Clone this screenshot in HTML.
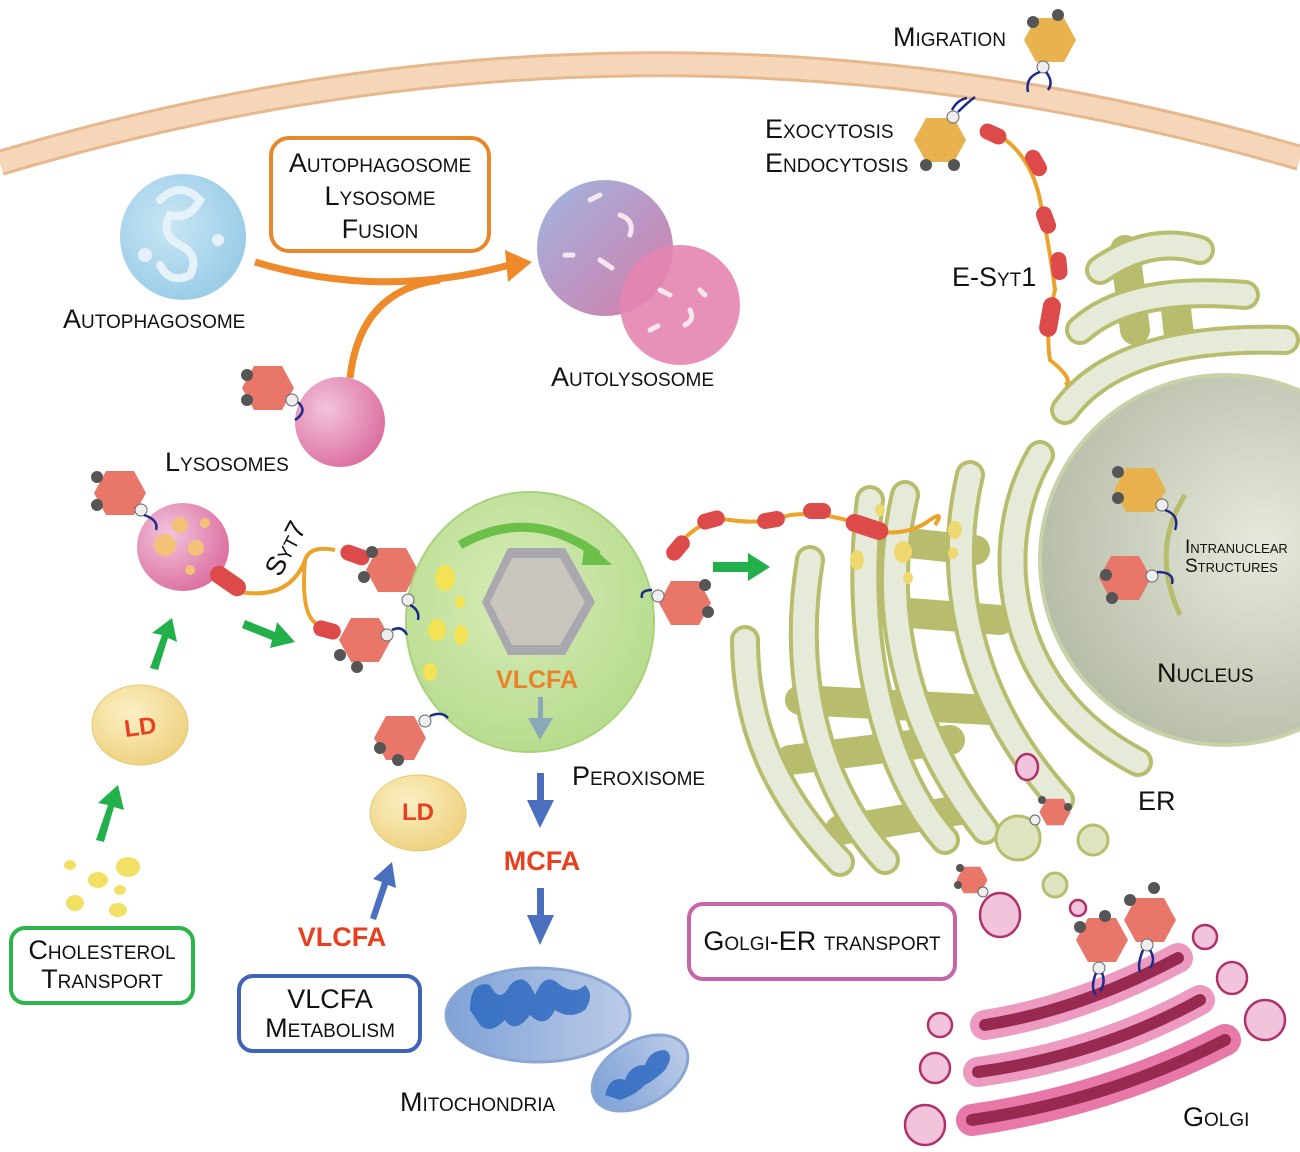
<!DOCTYPE html>
<html><head><meta charset="utf-8"><style>
html,body{margin:0;padding:0;background:#fff;}
svg{display:block;}
text{font-family:"Liberation Sans",sans-serif;}
.sc{font-variant:small-caps;font-size:27px;fill:#111;}
.red{fill:#e8401f;font-weight:bold;}
</style></head><body>
<svg width="1300" height="1152" viewBox="0 0 1300 1152" xmlns="http://www.w3.org/2000/svg">
<defs>
<radialGradient id="gPer" cx="0.45" cy="0.4" r="0.6"><stop offset="0" stop-color="#d8ecb8"/><stop offset="1" stop-color="#b7dc8e"/></radialGradient>
<radialGradient id="gNuc" cx="0.6" cy="0.45" r="0.6"><stop offset="0" stop-color="#e6e9dc"/><stop offset="1" stop-color="#b7bea8"/></radialGradient>
<radialGradient id="gAuto" cx="0.4" cy="0.4" r="0.6"><stop offset="0" stop-color="#c9e6f4"/><stop offset="1" stop-color="#9ccde8"/></radialGradient>
<linearGradient id="gAL" x1="0" y1="0" x2="1" y2="1"><stop offset="0" stop-color="#9fb6e2"/><stop offset="1" stop-color="#d67aa8"/></linearGradient>
<radialGradient id="gPink" cx="0.35" cy="0.35" r="0.7"><stop offset="0" stop-color="#f2c4dc"/><stop offset="1" stop-color="#dc6fa0"/></radialGradient>
<radialGradient id="gLD" cx="0.4" cy="0.35" r="0.7"><stop offset="0" stop-color="#fbf0c4"/><stop offset="1" stop-color="#eed07e"/></radialGradient>
<linearGradient id="gMito" x1="0" y1="0" x2="1" y2="0"><stop offset="0" stop-color="#7fa2d6"/><stop offset="1" stop-color="#bccbe8"/></linearGradient>
<g id="hexR"><polygon points="-14,-22 14,-22 26,0 14,22 -14,22 -26,0" fill="#e8776a"/></g>
<g id="hexY"><polygon points="-14,-22 14,-22 26,0 14,22 -14,22 -26,0" fill="#e8b24e"/></g>
</defs>

<!-- membrane -->
<path d="M0,163 Q650,-32 1300,158" fill="none" stroke="#e7b88e" stroke-width="26"/>
<path d="M0,163 Q650,-32 1300,158" fill="none" stroke="#f6d6b8" stroke-width="20"/>

<!-- autophagosome -->
<circle cx="183" cy="237" r="63" fill="url(#gAuto)"/>
<path d="M160,200 q20,-20 40,0 q-10,20 -30,15 q-10,20 10,30 q20,10 10,30 q-20,10 -30,-10" fill="none" stroke="#e6f2fa" stroke-width="8" stroke-linecap="round"/>
<circle cx="145" cy="255" r="7" fill="#e6f2fa"/><circle cx="218" cy="240" r="6" fill="#e6f2fa"/>
<text class="sc" x="63" y="328">Autophagosome</text>

<!-- fusion box -->
<rect x="271" y="138" width="218" height="113" rx="18" fill="#fff" stroke="#e8862a" stroke-width="4"/>
<text class="sc" x="380" y="172" text-anchor="middle">Autophagosome</text>
<text class="sc" x="380" y="205" text-anchor="middle">Lysosome</text>
<text class="sc" x="380" y="238" text-anchor="middle">Fusion</text>
<!-- orange arrows -->
<path d="M255,262 Q380,300 510,265" fill="none" stroke="#ee8a2a" stroke-width="7"/>
<path d="M350,378 Q360,290 440,280" fill="none" stroke="#ee8a2a" stroke-width="7"/>
<polygon points="505,250 532,262 508,282" fill="#ee8a2a"/>

<!-- autolysosome -->
<circle cx="605" cy="248" r="68" fill="url(#gAL)"/>
<circle cx="680" cy="305" r="60" fill="#e585b0" opacity="0.9"/>
<g stroke="#f6e6f0" stroke-width="5" stroke-linecap="round" fill="none"><path d="M590,200 l10,-5 M620,215 q15,5 10,20 M600,260 l12,8 M565,255 l8,0 M660,290 l10,5 M690,310 q5,10 -5,15 M650,330 l8,-4 M700,290 l5,5"/></g>
<text class="sc" x="551" y="386">Autolysosome</text>

<!-- lysosome -->
<circle cx="340" cy="422" r="45" fill="url(#gPink)"/>
<use href="#hexR" x="268" y="388"/><circle cx="247" cy="375" r="6" fill="#555"/><circle cx="247" cy="400" r="6" fill="#555"/>
<path d="M295,400 q15,10 0,20" fill="none" stroke="#1e2a8a" stroke-width="2.5"/><circle cx="292" cy="400" r="6" fill="#eee" stroke="#666"/>
<text class="sc" x="165" y="471">Lysosomes</text>

<!-- lysosome with Syt7 -->
<ellipse cx="183" cy="547" rx="46" ry="44" fill="url(#gPink)"/>
<circle cx="180" cy="525" r="8" fill="#f3c276"/><circle cx="165" cy="545" r="11" fill="#f3c276"/><circle cx="196" cy="548" r="8" fill="#f3c276"/><circle cx="205" cy="523" r="5" fill="#f3c276"/><circle cx="190" cy="570" r="5" fill="#f3c276"/>
<use href="#hexR" x="120" y="493"/><circle cx="97" cy="477" r="6" fill="#555"/><circle cx="97" cy="505" r="6" fill="#555"/>
<circle cx="141" cy="510" r="6" fill="#eee" stroke="#666"/><path d="M144,515 q15,5 12,15" fill="none" stroke="#1e2a8a" stroke-width="2.5"/>
<path d="M240,592 Q290,600 305,560 Q310,545 335,550 M305,560 Q300,620 320,625" fill="none" stroke="#eba32a" stroke-width="4"/>
<rect x="208" y="572" width="40" height="18" rx="9" fill="#dc4a4a" transform="rotate(35 228 581)"/>
<rect x="340" y="547" width="30" height="16" rx="8" fill="#dc4a4a" transform="rotate(20 355 555)"/>
<rect x="313" y="622" width="28" height="16" rx="8" fill="#dc4a4a" transform="rotate(15 327 630)"/>
<text class="sc" x="0" y="0" transform="translate(280,578) rotate(-62)">Syt7</text>
<use href="#hexR" x="392" y="570"/><circle cx="372" cy="552" r="6" fill="#555"/><circle cx="364" cy="577" r="6" fill="#555"/>
<use href="#hexR" x="365" y="640"/><circle cx="340" cy="655" r="6" fill="#555"/><circle cx="357" cy="667" r="6" fill="#555"/>

<!-- green arrows -->
<g fill="#22b04a">
<polygon points="150,668 162,635 152,633 172,618 177,642 168,638 158,670"/>
<polygon points="245,620 275,632 277,622 295,642 270,648 272,640 242,628"/>
<polygon points="96,840 108,805 98,803 118,785 124,810 114,807 104,842"/>
<polygon points="713,562 748,562 748,553 770,567 748,581 748,572 713,572"/>
</g>

<!-- peroxisome -->
<ellipse cx="530" cy="622" rx="124" ry="130" fill="url(#gPer)" stroke="#a9d27c" stroke-width="2"/>
<path d="M460,545 Q530,505 598,555" fill="none" stroke="#6cc04a" stroke-width="9"/>
<polygon points="585,540 612,565 582,565" fill="#6cc04a"/>
<polygon points="508,548 565,548 595,602 565,655 508,655 482,602" fill="#a8a8ae"/>
<polygon points="512,558 560,558 585,602 560,645 512,645 490,602" fill="#c9c4bc"/>
<g fill="#f2e254"><ellipse cx="445" cy="578" rx="10" ry="13"/><ellipse cx="460" cy="602" rx="5" ry="6"/><ellipse cx="437" cy="630" rx="9" ry="11"/><ellipse cx="461" cy="635" rx="7" ry="10"/><ellipse cx="430" cy="672" rx="7" ry="9"/></g>
<text x="537" y="688" text-anchor="middle" font-size="25" font-weight="bold" fill="#e8832a">VLCFA</text>
<rect x="538" y="697" width="5" height="25" fill="#8aa8b8"/><polygon points="528,718 553,718 540,740" fill="#8aa8b8"/>
<circle cx="408" cy="600" r="6" fill="#eee" stroke="#666"/><path d="M410,605 q10,5 8,15" fill="none" stroke="#1e2a8a" stroke-width="2.5"/>
<circle cx="387" cy="635" r="6" fill="#eee" stroke="#666"/><path d="M392,630 q10,-5 15,5" fill="none" stroke="#1e2a8a" stroke-width="2.5"/>
<text class="sc" x="572" y="785">Peroxisome</text>

<!-- right hex on peroxisome -->
<use href="#hexR" x="685" y="603"/><circle cx="705" cy="585" r="6" fill="#555"/><circle cx="708" cy="612" r="6" fill="#555"/>
<circle cx="658" cy="596" r="6" fill="#eee" stroke="#666"/><path d="M652,590 q-12,0 -10,8" fill="none" stroke="#1e2a8a" stroke-width="2.5"/>

<!-- LD bottom hex -->
<use href="#hexR" x="400" y="738"/><circle cx="380" cy="748" r="6" fill="#555"/><circle cx="398" cy="760" r="6" fill="#555"/>
<circle cx="425" cy="721" r="6" fill="#eee" stroke="#666"/><path d="M430,716 q12,-5 18,2" fill="none" stroke="#1e2a8a" stroke-width="2.5"/>

<!-- LDs -->
<ellipse cx="140" cy="725" rx="48" ry="40" fill="url(#gLD)" stroke="#e6c870"/>
<text x="140" y="735" text-anchor="middle" font-size="24" font-weight="bold" fill="#e8401f" transform="rotate(-8 140 725)">LD</text>
<ellipse cx="418" cy="813" rx="48" ry="38" fill="url(#gLD)" stroke="#e6c870"/>
<text x="418" y="820" text-anchor="middle" font-size="24" font-weight="bold" fill="#e8401f">LD</text>
<g fill="#f2e064"><ellipse cx="70" cy="865" rx="6" ry="5"/><ellipse cx="98" cy="880" rx="10" ry="8"/><ellipse cx="128" cy="867" rx="12" ry="10"/><ellipse cx="120" cy="890" rx="6" ry="5"/><ellipse cx="75" cy="903" rx="9" ry="8"/><ellipse cx="118" cy="910" rx="9" ry="7"/></g>

<!-- blue arrows -->
<g fill="#4a6fbf">
<polygon points="370,918 382,882 373,879 392,862 396,888 388,885 376,920"/>
<rect x="537" y="773" width="7" height="32"/><polygon points="527,800 554,800 540,828"/>
<rect x="537" y="888" width="7" height="30"/><polygon points="527,915 554,915 540,945"/>
</g>
<text x="542" y="870" text-anchor="middle" font-size="27" font-weight="bold" fill="#e8401f">MCFA</text>
<text x="342" y="946" text-anchor="middle" font-size="27" font-weight="bold" fill="#e8401f">VLCFA</text>

<!-- boxes -->
<rect x="11" y="928" width="182" height="75" rx="14" fill="#fff" stroke="#2bb54a" stroke-width="4"/>
<text class="sc" x="102" y="959" text-anchor="middle">Cholesterol</text>
<text class="sc" x="102" y="988" text-anchor="middle">Transport</text>
<rect x="239" y="976" width="181" height="75" rx="14" fill="#fff" stroke="#4063b8" stroke-width="4"/>
<text class="sc" x="330" y="1008" text-anchor="middle">VLCFA</text>
<text class="sc" x="330" y="1037" text-anchor="middle">Metabolism</text>
<rect x="689" y="904" width="266" height="75" rx="14" fill="#fff" stroke="#c865a8" stroke-width="4"/>
<text class="sc" x="822" y="950" text-anchor="middle">Golgi-ER transport</text>

<!-- mitochondria -->
<ellipse cx="538" cy="1015" rx="92" ry="47" fill="url(#gMito)" stroke="#8aa6d4" stroke-width="3"/>
<path d="M470,1010 q0,-30 20,-25 q10,20 20,0 q15,-15 25,10 q10,-25 25,-10 q15,10 25,0 q10,10 0,25 q-15,10 -30,0 q-10,20 -25,5 q-15,20 -25,5 q-15,15 -25,5 z" fill="#2e6ac0" opacity="0.85"/>
<ellipse cx="640" cy="1073" rx="52" ry="32" transform="rotate(-30 640 1073)" fill="url(#gMito)" stroke="#8aa6d4" stroke-width="3"/>
<path d="M605,1095 q5,-20 20,-15 q5,-15 20,-15 q5,-15 20,-15 q10,5 0,20 q-10,10 -20,15 q-10,10 -25,15 z" fill="#2e6ac0" opacity="0.85"/>
<text class="sc" x="400" y="1111">Mitochondria</text>

<!-- nucleus -->
<circle cx="1225" cy="560" r="185" fill="url(#gNuc)" stroke="#c8d2a8" stroke-width="4"/>
<path d="M1185,495 Q1150,550 1180,615" fill="none" stroke="#b8bd6e" stroke-width="5"/>
<use href="#hexY" x="1140" y="490"/><circle cx="1118" cy="472" r="6" fill="#555"/><circle cx="1118" cy="498" r="6" fill="#555"/>
<circle cx="1162" cy="505" r="6" fill="#eee" stroke="#666"/><path d="M1165,510 q15,5 10,20" fill="none" stroke="#1e2a8a" stroke-width="2.5"/>
<use href="#hexR" x="1125" y="578"/><circle cx="1106" cy="575" r="6" fill="#555"/><circle cx="1112" cy="598" r="6" fill="#555"/>
<circle cx="1152" cy="576" r="6" fill="#eee" stroke="#666"/><path d="M1157,572 q18,0 15,12" fill="none" stroke="#1e2a8a" stroke-width="2.5"/>
<text class="sc" x="1185" y="553" style="font-size:19px">Intranuclear</text>
<text class="sc" x="1185" y="572" style="font-size:19px">Structures</text>
<text class="sc" x="1157" y="682">Nucleus</text>

<!-- ER -->
<g fill="none" stroke-linecap="round">
<g stroke="#b8bd6e" stroke-width="30">
<path d="M1040,455 C990,540 1000,690 1138,762"/>
<path d="M970,475 C945,580 970,700 1060,800"/>
<path d="M905,495 C880,600 900,720 985,830"/>
<path d="M870,500 C855,620 875,760 945,840"/>
<path d="M810,560 C790,680 820,790 885,860"/>
<path d="M745,640 C745,730 780,800 840,862"/>
<path d="M1065,410 Q1120,335 1285,340"/>
<path d="M1080,330 Q1130,285 1245,295"/>
<path d="M1100,270 Q1150,235 1200,250"/>
<path d="M1125,250 L1135,330 M1175,300 L1180,345"/>
<path d="M870,610 L1000,620 M800,700 L990,710 M790,760 L950,740 M840,830 L960,810 M880,540 L975,550"/>
</g>
<g stroke="#e6ead8" stroke-width="22">
<path d="M1040,455 C990,540 1000,690 1138,762"/>
<path d="M970,475 C945,580 970,700 1060,800"/>
<path d="M905,495 C880,600 900,720 985,830"/>
<path d="M870,500 C855,620 875,760 945,840"/>
<path d="M810,560 C790,680 820,790 885,860"/>
<path d="M745,640 C745,730 780,800 840,862"/>
<path d="M1065,410 Q1120,335 1285,340"/>
<path d="M1080,330 Q1130,285 1245,295"/>
<path d="M1100,270 Q1150,235 1200,250"/>
</g>
</g>
<g fill="#f0d870"><ellipse cx="903" cy="552" rx="9" ry="11"/><ellipse cx="908" cy="578" rx="5" ry="6"/><ellipse cx="857" cy="560" rx="7" ry="10"/><ellipse cx="955" cy="530" rx="7" ry="9"/><ellipse cx="953" cy="553" rx="5" ry="6"/><ellipse cx="880" cy="510" rx="5" ry="6"/></g>
<text class="sc" x="1138" y="810">ER</text>

<!-- E-Syt chains -->
<path d="M670,555 Q700,515 730,520 Q760,525 790,515 Q830,510 880,532 Q910,535 930,520 Q945,510 935,525" fill="none" stroke="#eba32a" stroke-width="4"/>
<g fill="#dc4a4a">
<rect x="664" y="540" width="28" height="16" rx="8" transform="rotate(-50 678 548)"/>
<rect x="697" y="512" width="28" height="16" rx="8" transform="rotate(-15 711 520)"/>
<rect x="757" y="512" width="28" height="16" rx="8" transform="rotate(-10 771 520)"/>
<rect x="803" y="503" width="28" height="16" rx="8"/>
<rect x="845" y="518" width="44" height="18" rx="9" transform="rotate(18 867 527)"/>
</g>
<path d="M990,130 Q1030,150 1040,200 Q1050,250 1055,290 Q1045,330 1050,360 Q1075,380 1065,385" fill="none" stroke="#eba32a" stroke-width="4"/>
<g fill="#dc4a4a">
<rect x="979" y="126" width="28" height="16" rx="8" transform="rotate(25 993 134)"/>
<rect x="1022" y="155" width="28" height="16" rx="8" transform="rotate(60 1036 163)"/>
<rect x="1032" y="212" width="28" height="16" rx="8" transform="rotate(70 1046 220)"/>
<rect x="1045" y="258" width="28" height="16" rx="8" transform="rotate(85 1059 266)"/>
<rect x="1030" y="308" width="40" height="18" rx="9" transform="rotate(100 1050 317)"/>
</g>
<text class="sc" x="952" y="286">E-Syt1</text>

<!-- top hexes -->
<use href="#hexY" x="1050" y="40"/><circle cx="1033" cy="22" r="6" fill="#555"/><circle cx="1058" cy="15" r="6" fill="#555"/>
<circle cx="1043" cy="67" r="6" fill="#eee" stroke="#666"/><path d="M1040,72 q-15,5 -12,20 M1046,72 q8,10 2,18" fill="none" stroke="#1e2a8a" stroke-width="2.5"/>
<use href="#hexY" x="940" y="140"/><circle cx="926" cy="165" r="6" fill="#555"/><circle cx="954" cy="165" r="6" fill="#555"/>
<circle cx="953" cy="117" r="6" fill="#eee" stroke="#666"/><path d="M958,112 q10,-10 17,-15 M952,110 q5,-10 15,-12" fill="none" stroke="#1e2a8a" stroke-width="2.5"/>
<text class="sc" x="893" y="46">Migration</text>
<text class="sc" x="765" y="138">Exocytosis</text>
<text class="sc" x="765" y="172">Endocytosis</text>

<!-- vesicles -->
<g fill="#f2c4dc" stroke="#b0306a" stroke-width="2.5">
<ellipse cx="1027" cy="767" rx="11" ry="13"/>
<ellipse cx="1000" cy="915" rx="20" ry="22"/>
<ellipse cx="1078" cy="908" rx="8" ry="8"/>
<ellipse cx="940" cy="1025" rx="12" ry="12"/>
<ellipse cx="935" cy="1068" rx="15" ry="15"/>
<ellipse cx="925" cy="1125" rx="20" ry="20"/>
<ellipse cx="1205" cy="937" rx="12" ry="12"/>
<ellipse cx="1232" cy="978" rx="15" ry="16"/>
<ellipse cx="1265" cy="1020" rx="20" ry="20"/>
</g>
<g fill="#dfe4c0" stroke="#b8bd6e" stroke-width="3">
<circle cx="1018" cy="838" r="22"/><circle cx="1093" cy="840" r="15"/><circle cx="1055" cy="885" r="12"/>
</g>
<use href="#hexR" x="1055" y="812" transform="translate(1055 812) scale(0.6) translate(-1055 -812)"/>
<circle cx="1042" cy="800" r="4" fill="#555"/><circle cx="1068" cy="807" r="4" fill="#555"/><circle cx="1035" cy="820" r="5" fill="#eee" stroke="#666"/>
<use href="#hexR" x="972" y="880" transform="translate(972 880) scale(0.6) translate(-972 -880)"/>
<circle cx="960" cy="868" r="4" fill="#555"/><circle cx="958" cy="885" r="4" fill="#555"/><circle cx="983" cy="892" r="5" fill="#eee" stroke="#666"/>

<!-- golgi -->
<g fill="none" stroke-linecap="round">
<path d="M985,1025 Q1080,1010 1178,958" stroke="#ec9ac0" stroke-width="30"/>
<path d="M985,1025 Q1080,1010 1178,958" stroke="#982a52" stroke-width="12"/>
<path d="M978,1072 Q1100,1055 1200,1000" stroke="#ec9ac0" stroke-width="30"/>
<path d="M978,1072 Q1100,1055 1200,1000" stroke="#982a52" stroke-width="12"/>
<path d="M972,1120 Q1110,1100 1225,1040" stroke="#e878a8" stroke-width="32"/>
<path d="M972,1120 Q1110,1100 1225,1040" stroke="#982a52" stroke-width="12"/>
</g>
<use href="#hexR" x="1102" y="940"/><circle cx="1080" cy="927" r="6" fill="#555"/><circle cx="1105" cy="916" r="6" fill="#555"/>
<circle cx="1099" cy="968" r="6" fill="#eee" stroke="#666"/><path d="M1096,973 q-6,15 0,22 M1102,973 q4,10 -2,18" fill="none" stroke="#1e2a8a" stroke-width="2.5"/>
<use href="#hexR" x="1150" y="920"/><circle cx="1130" cy="900" r="6" fill="#555"/><circle cx="1154" cy="888" r="6" fill="#555"/>
<circle cx="1147" cy="945" r="6" fill="#eee" stroke="#666"/><path d="M1143,950 q-6,15 -3,22 M1150,950 q6,10 0,18" fill="none" stroke="#1e2a8a" stroke-width="2.5"/>
<text class="sc" x="1183" y="1126">Golgi</text>
</svg>
</body></html>
